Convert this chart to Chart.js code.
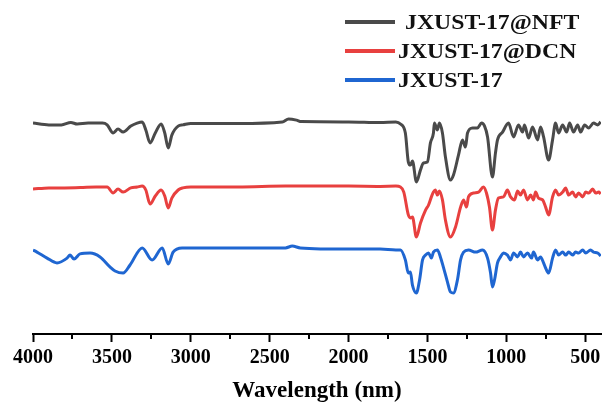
<!DOCTYPE html>
<html>
<head>
<meta charset="utf-8">
<script src="https://cdn.jsdelivr.net/npm/chart.js@4.4.1/dist/chart.umd.min.js"></script>
<style>
  html, body { margin: 0; padding: 0; background: #fff; }
  #wrap { width: 605px; height: 409px; }
</style>
</head>
<body>
<div id="wrap"><canvas id="ir" width="605" height="409"></canvas></div>
<script>
// FT-IR spectra, traces stacked with an offset (arbitrary transmittance units)
const labels = ["JXUST-17@NFT", "JXUST-17@DCN", "JXUST-17"];
const colors = ["#4a4a4a", "#e8403f", "#1f66d1"];
const majorTicks = [4000, 3500, 3000, 2500, 2000, 1500, 1000, 500];
const minorTicks = [3750, 3250, 2750, 2250, 1750, 1250, 750];

const nftWave = [4000, 3900, 3820, 3760, 3720, 3650, 3560, 3530, 3492, 3461, 3429, 3380, 3340, 3308, 3285, 3258, 3225, 3188, 3165, 3143, 3120, 3080, 3050, 3000, 2700, 2420, 2380, 2330, 2300, 2000, 1800, 1700, 1671, 1640, 1621, 1608, 1595, 1570, 1544, 1525, 1500, 1481, 1462, 1456, 1437, 1424, 1405, 1386, 1354, 1335, 1303, 1278, 1259, 1246, 1214, 1183, 1157, 1138, 1119, 1088, 1069, 1056, 1024, 986, 954, 923, 897, 885, 859, 834, 802, 783, 764, 732, 707, 688, 669, 643, 618, 599, 574, 548, 529, 504, 478, 447, 421, 402];
const nftT = [70.3, 69.7, 69.7, 70.5, 70.0, 70.3, 70.3, 69.7, 67.0, 68.3, 67.3, 69.3, 70.3, 70.7, 68.0, 63.7, 67.0, 70.0, 67.0, 62.0, 66.3, 69.3, 69.7, 70.2, 70.2, 70.7, 71.7, 71.3, 70.8, 70.7, 70.5, 70.7, 70.0, 67.0, 57.3, 56.3, 57.7, 50.7, 54.7, 57.0, 57.3, 63.7, 67.0, 70.3, 68.0, 70.3, 67.0, 59.0, 51.3, 53.0, 59.7, 64.7, 62.3, 67.0, 68.7, 68.7, 70.3, 69.3, 65.7, 52.3, 60.3, 64.7, 67.3, 70.3, 65.7, 69.7, 67.3, 69.7, 65.3, 69.0, 64.7, 69.0, 65.7, 58.0, 64.7, 70.3, 67.0, 69.7, 67.3, 70.3, 67.3, 69.7, 67.3, 69.7, 68.7, 70.3, 69.7, 70.7];

const dcnWave = [4000, 3900, 3800, 3700, 3600, 3530, 3492, 3461, 3429, 3380, 3340, 3308, 3285, 3258, 3225, 3188, 3165, 3143, 3120, 3080, 3050, 3000, 2700, 2400, 2300, 2000, 1800, 1700, 1671, 1650, 1621, 1608, 1595, 1570, 1544, 1512, 1493, 1475, 1462, 1450, 1437, 1424, 1405, 1386, 1354, 1322, 1290, 1271, 1252, 1240, 1208, 1176, 1145, 1126, 1107, 1088, 1069, 1050, 1018, 993, 973, 948, 929, 910, 891, 866, 846, 828, 815, 796, 770, 751, 732, 707, 688, 669, 643, 624, 605, 580, 561, 542, 516, 497, 478, 453, 434, 415, 402];
const dcnT = [48.3, 48.7, 48.7, 48.8, 49.0, 49.0, 47.0, 48.3, 47.3, 48.7, 49.0, 49.3, 48.0, 43.3, 46.0, 48.0, 46.0, 42.0, 45.3, 48.0, 48.7, 49.0, 49.0, 49.3, 49.3, 49.3, 49.2, 49.3, 49.0, 47.3, 39.7, 38.7, 39.0, 32.3, 37.0, 41.3, 43.0, 45.7, 47.3, 48.0, 46.3, 47.7, 44.7, 38.0, 32.3, 35.7, 42.3, 44.7, 42.3, 45.7, 47.0, 47.3, 49.0, 47.0, 42.3, 34.7, 41.3, 45.3, 45.7, 48.0, 45.7, 44.7, 47.7, 46.3, 48.0, 44.7, 46.3, 44.7, 47.3, 45.3, 44.7, 42.3, 39.7, 45.7, 48.0, 46.3, 47.3, 48.7, 46.3, 47.3, 45.7, 47.0, 45.7, 47.3, 47.0, 48.3, 47.0, 47.3, 46.7];

const baseWave = [4000, 3975, 3911, 3848, 3784, 3765, 3740, 3702, 3638, 3575, 3511, 3480, 3429, 3385, 3308, 3245, 3181, 3143, 3112, 3055, 2700, 2400, 2357, 2306, 2000, 1800, 1700, 1671, 1640, 1621, 1608, 1595, 1570, 1550, 1531, 1512, 1493, 1475, 1462, 1437, 1418, 1399, 1373, 1354, 1335, 1310, 1290, 1271, 1240, 1195, 1151, 1119, 1100, 1088, 1075, 1056, 1037, 1018, 993, 973, 954, 929, 910, 891, 866, 840, 828, 802, 783, 764, 751, 732, 707, 688, 669, 643, 624, 605, 580, 561, 542, 516, 497, 466, 447, 421, 402];
const baseT = [28.0, 27.3, 25.3, 23.7, 25.3, 26.3, 25.0, 26.7, 27.0, 25.7, 22.3, 21.0, 20.3, 23.0, 28.7, 24.7, 28.7, 23.3, 27.3, 28.7, 28.7, 28.7, 29.3, 28.7, 28.3, 28.3, 28.0, 28.0, 24.7, 20.3, 20.7, 16.3, 13.7, 18.0, 24.7, 26.3, 27.0, 25.3, 27.3, 28.0, 25.7, 22.3, 17.3, 14.0, 13.7, 18.0, 24.7, 27.3, 28.0, 27.3, 28.0, 25.3, 20.3, 15.7, 18.0, 23.7, 25.7, 27.0, 26.3, 24.7, 27.0, 25.7, 27.3, 25.7, 27.0, 25.3, 27.3, 24.7, 25.7, 23.7, 22.0, 20.3, 25.3, 28.0, 26.3, 27.3, 26.3, 27.3, 26.3, 27.3, 27.0, 28.0, 27.0, 28.0, 27.3, 27.0, 26.0];

function pairs(xs, ys) {
    return xs.map((x, i) => ({ x: x, y: ys[i] }));
}

const series = [pairs(nftWave, nftT), pairs(dcnWave, dcnT), pairs(baseWave, baseT)];

const serif = "'Liberation Serif', 'Times New Roman', serif";

// legend in the top right corner, short line + bold label
const sideLegend = {
    id: "sideLegend",
    afterDraw(chart) {
        const ctx = chart.ctx;
        const rows = [22, 51, 80];
        ctx.save();
        chart.data.datasets.forEach((ds, i) => {
            ctx.strokeStyle = ds.borderColor;
            ctx.lineWidth = 4;
            ctx.beginPath();
            ctx.moveTo(345, rows[i]);
            ctx.lineTo(395, rows[i]);
            ctx.stroke();
            // label is a touch wider than the plain face
            ctx.save();
            ctx.translate(i === 0 ? 405 : 398, rows[i] + 1);
            ctx.scale(1.08, 1);
            ctx.font = "bold 22px " + serif;
            ctx.textBaseline = "middle";
            ctx.fillStyle = "#111";
            ctx.fillText(ds.label, 0, 0);
            ctx.restore();
        });
        ctx.restore();
    }
};

// short minor ticks between the labelled ones
const minorTickMarks = {
    id: "minorTickMarks",
    afterDraw(chart) {
        const x = chart.scales.x;
        const ctx = chart.ctx;
        ctx.save();
        ctx.strokeStyle = "#000";
        ctx.lineWidth = 2;
        minorTicks.forEach(v => {
            const px = Math.round(x.getPixelForValue(v));
            ctx.beginPath();
            ctx.moveTo(px, x.top);
            ctx.lineTo(px, x.top + 5);
            ctx.stroke();
        });
        ctx.restore();
    }
};

new Chart(document.getElementById("ir"), {
    type: "line",
    data: {
        datasets: series.map((d, i) => ({
            label: labels[i],
            data: d,
            borderColor: colors[i],
            borderWidth: 3,
            pointRadius: 0,
            cubicInterpolationMode: "monotone",
            fill: false
        }))
    },
    options: {
        responsive: false,
        animation: false,
        devicePixelRatio: 1,
        layout: { padding: { top: 34, left: 33, right: 4, bottom: 0 } },
        plugins: {
            legend: { display: false },
            tooltip: { enabled: false }
        },
        scales: {
            x: {
                type: "linear",
                reverse: true,
                min: 400,
                max: 4000,
                afterBuildTicks: axis => {
                    axis.ticks = majorTicks.map(v => ({ value: v }));
                },
                afterFit: axis => { axis.height = 75; },
                border: { display: true, color: "#000", width: 2 },
                grid: {
                    drawOnChartArea: false,
                    drawTicks: true,
                    tickLength: 8,
                    tickWidth: 2,
                    tickColor: "#000"
                },
                ticks: {
                    color: "#000",
                    padding: 4,
                    maxRotation: 0,
                    callback: v => String(v),
                    font: { family: serif, size: 20, weight: "bold" }
                },
                title: {
                    display: true,
                    text: "Wavelength (nm)",
                    color: "#000",
                    padding: { top: 7 },
                    font: { family: serif, size: 23, weight: "bold" }
                }
            },
            y: {
                display: false,
                min: 0,
                max: 100
            }
        }
    },
    plugins: [sideLegend, minorTickMarks]
});
</script>
</body>
</html>
